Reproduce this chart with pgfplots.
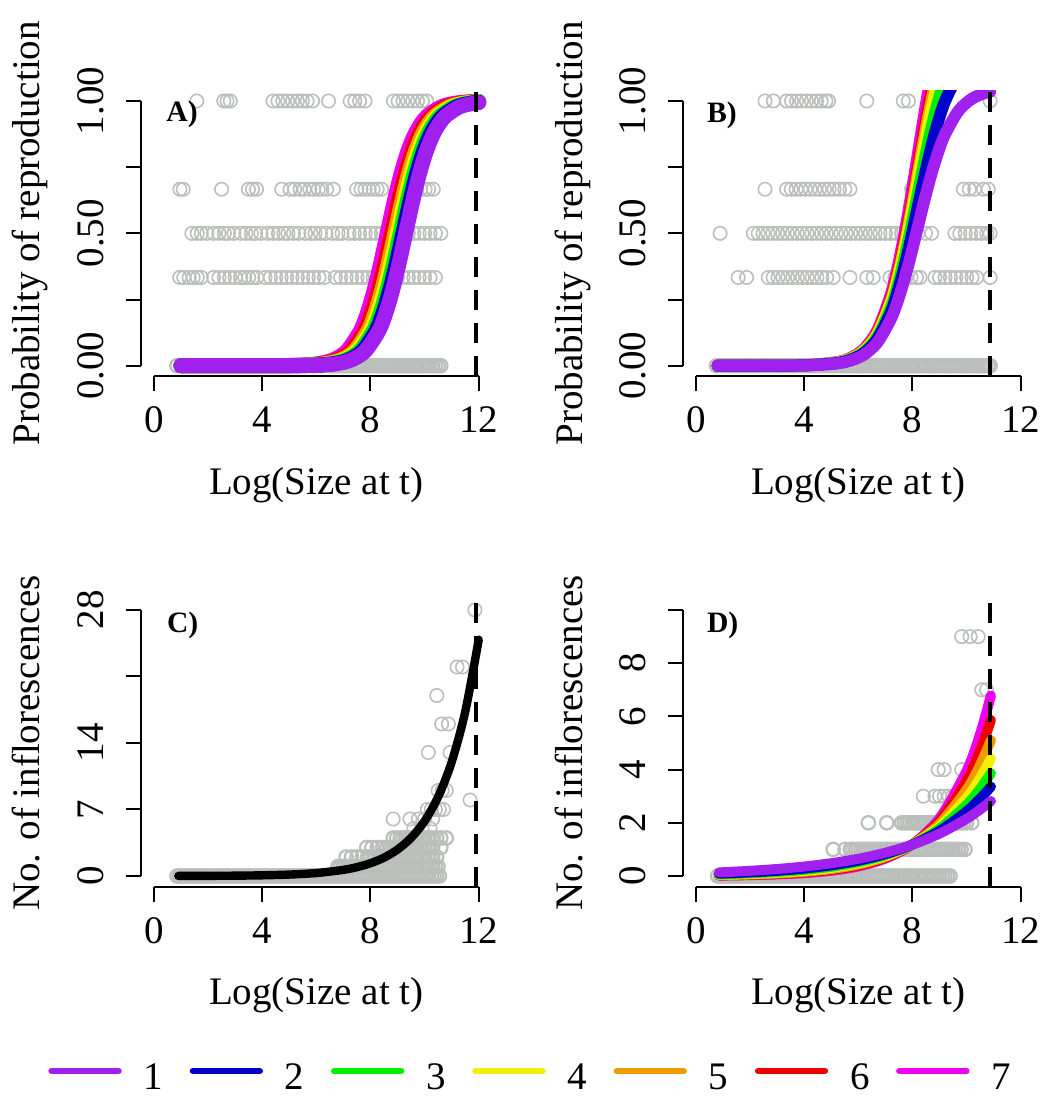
\documentclass[border=0pt]{standalone}
\usepackage{fontspec}
\setmainfont{Liberation Serif}
\usepackage{pgfplots}
\pgfplotsset{compat=1.18}
\newcommand{\bigf}{\fontsize{19.5}{22}\selectfont}
\definecolor{cpurple}{RGB}{160,32,240}
\definecolor{cblue}{RGB}{0,0,205}
\definecolor{cgreen}{RGB}{0,238,0}
\definecolor{cyellow}{RGB}{240,240,0}
\definecolor{corange}{RGB}{238,154,0}
\definecolor{cred}{RGB}{238,0,0}
\definecolor{cmagenta}{RGB}{238,0,238}
\definecolor{cgray}{RGB}{186,191,188}
\pgfplotsset{
 rbase/.style={
  scale only axis, width=175.35pt,
  axis lines=left,
  clip marker paths=true,
  axis line style={-, line width=1pt, black},
  x axis line style={shorten <=6.5pt, shorten >=6.5pt},
  tick style={black, line width=1pt},
  tick align=outside, major tick length=7.5pt,
  xmin=-0.48, xmax=12.48,
  xtick={0,4,8,12}, xticklabels={0,4,8,12},
  tick label style={font=\bigf},
  label style={font=\bigf},
  xticklabel style={anchor=base, yshift=-20.85pt, inner sep=0pt},
  yticklabel style={xshift=-11.25pt, rotate=90, anchor=base, inner sep=0pt},
  xlabel={Log(Size at t)},
  xlabel style={at={(axis description cs:0.5,0)}, anchor=base, yshift=-59.15pt},
  ylabel style={at={(axis description cs:-0.288,0.5)}, anchor=base},
 },
 rprob/.style={rbase, height=142.95pt, ymin=-0.04, ymax=1.04,
  ytick={0,0.25,0.5,0.75,1}, yticklabels={0.00,,0.50,,1.00},
  y axis line style={shorten <=5.3pt, shorten >=5.3pt},
  ylabel={Probability of reproduction}},
 sc/.style={only marks, mark=o, mark size=3.35pt, color=cgray, mark options={line width=0.8pt}},
 scd/.style={only marks, mark=o, mark size=3.35pt, color=cgray, mark options={line width=1.1pt}},
 cv/.style={smooth, no markers, line cap=round, line join=round},
 dsh/.style={black, line width=2pt, dash pattern=on 10pt off 6.5pt},
}
\begin{document}
\begin{tikzpicture}
\useasboundingbox (0,0) rectangle (522pt,549.5pt);
% ---------------- A ----------------
\begin{axis}[rprob, at={(70.5pt,361.35pt)}, anchor=south west]
\addplot[sc] coordinates {(1.58,1)(2.58,1)(2.7,1)(2.82,1)(4.4,1)(4.58,1)(4.76,1)(4.94,1)(5.12,1)(5.3,1)(5.48,1)(5.66,1)(5.86,1)(6.45,1)(7.25,1)(7.42,1)(7.6,1)(7.8,1)(8.85,1)(9.02,1)(9.2,1)(9.38,1)(9.56,1)(9.74,1)(9.92,1)(10.08,1)};
\addplot[sc] coordinates {(0.96,0.6667)(1.08,0.6667)(2.5,0.6667)(3.49,0.6667)(3.64,0.6667)(3.79,0.6667)(4.72,0.6667)(5.03,0.6667)(5.2,0.6667)(5.4,0.6667)(5.55,0.6667)(5.76,0.6667)(5.9,0.6667)(6.07,0.6667)(6.2,0.6667)(6.38,0.6667)(6.63,0.6667)(7.49,0.6667)(7.65,0.6667)(7.8,0.6667)(7.95,0.6667)(8.1,0.6667)(8.25,0.6667)(8.41,0.6667)(9.71,0.6667)(9.85,0.6667)(10.02,0.6667)(10.15,0.6667)(10.32,0.6667)};
\addplot[sc] coordinates {(1.4,0.5)(1.6,0.5)(1.75,0.5)(1.95,0.5)(2.2,0.5)(2.4,0.5)(2.6,0.5)(2.75,0.5)(2.95,0.5)(3.2,0.5)(3.4,0.5)(3.6,0.5)(3.75,0.5)(3.95,0.5)(4.2,0.5)(4.4,0.5)(4.6,0.5)(4.8,0.5)(4.95,0.5)(5.15,0.5)(5.35,0.5)(5.6,0.5)(5.8,0.5)(5.95,0.5)(6.15,0.5)(6.35,0.5)(6.6,0.5)(6.8,0.5)(6.95,0.5)(7.2,0.5)(7.4,0.5)(7.6,0.5)(7.8,0.5)(8.0,0.5)(8.2,0.5)(8.4,0.5)(8.6,0.5)(8.8,0.5)(9.0,0.5)(9.2,0.5)(9.4,0.5)(9.6,0.5)(9.8,0.5)(10.0,0.5)(10.2,0.5)(10.4,0.5)(10.6,0.5)};
\addplot[sc] coordinates {(0.95,0.3333)(1.1,0.3333)(1.3,0.3333)(1.45,0.3333)(1.6,0.3333)(1.75,0.3333)(2.2,0.3333)(2.4,0.3333)(2.6,0.3333)(2.8,0.3333)(3.0,0.3333)(3.2,0.3333)(3.35,0.3333)(3.5,0.3333)(3.65,0.3333)(3.8,0.3333)(4.1,0.3333)(4.3,0.3333)(4.5,0.3333)(4.7,0.3333)(4.9,0.3333)(5.1,0.3333)(5.3,0.3333)(5.5,0.3333)(5.7,0.3333)(5.9,0.3333)(6.1,0.3333)(6.3,0.3333)(6.7,0.3333)(6.9,0.3333)(7.1,0.3333)(7.3,0.3333)(7.5,0.3333)(7.7,0.3333)(7.9,0.3333)(8.1,0.3333)(8.4,0.3333)(8.6,0.3333)(8.8,0.3333)(9.0,0.3333)(9.2,0.3333)(9.4,0.3333)(9.6,0.3333)(9.8,0.3333)(10.0,0.3333)(10.2,0.3333)(10.4,0.3333)};
\addplot[scd] coordinates {(0.85,0)(1.1,0)(1.4,0)(1.7,0)(2.0,0)(2.3,0)(2.6,0)(2.9,0)(3.2,0)(3.5,0)(3.8,0)(4.1,0)(4.4,0)(4.7,0)(5.0,0)(5.3,0)(5.6,0)(5.9,0)(6.2,0)(6.5,0)(6.6,0)(6.7,0)(6.8,0)(6.9,0)(7.0,0)(7.1,0)(7.2,0)(7.3,0)(7.4,0)(7.5,0)(7.6,0)(7.7,0)(7.8,0)(7.9,0)(8.0,0)(8.1,0)(8.2,0)(8.3,0)(8.4,0)(8.5,0)(8.6,0)(8.7,0)(8.8,0)(8.9,0)(9.0,0)(9.1,0)(9.2,0)(9.3,0)(9.4,0)(9.5,0)(9.6,0)(9.7,0)(9.8,0)(9.9,0)(10.0,0)(10.1,0)(10.2,0)(10.3,0)(10.4,0)(10.5,0)(10.6,0)};
\addplot[cv, cmagenta, line width=7.5pt] coordinates {(1.0,0)(4.62,0.0005)(5.62,0.0033)(6.12,0.0086)(6.62,0.0219)(7.12,0.0547)(7.62,0.1301)(7.87,0.1939)(8.12,0.2789)(8.37,0.3834)(8.62,0.5)(8.87,0.6166)(9.12,0.7211)(9.37,0.8061)(9.62,0.8699)(9.87,0.9149)(10.12,0.9453)(10.62,0.9781)(11.12,0.9914)(11.62,0.9967)(12,0.9984)};
\addplot[cv, cred, line width=7.5pt] coordinates {(1.0,0)(4.78,0.0005)(5.78,0.0033)(6.28,0.0086)(6.78,0.0219)(7.28,0.0547)(7.78,0.1301)(8.03,0.1939)(8.28,0.2789)(8.53,0.3834)(8.78,0.5)(9.03,0.6166)(9.28,0.7211)(9.53,0.8061)(9.78,0.8699)(10.03,0.9149)(10.28,0.9453)(10.78,0.9781)(11.28,0.9914)(11.78,0.9967)(12,0.9978)};
\addplot[cv, corange, line width=7.5pt] coordinates {(1.0,0)(4.9,0.0005)(5.9,0.0033)(6.4,0.0086)(6.9,0.0219)(7.4,0.0547)(7.9,0.1301)(8.15,0.1939)(8.4,0.2789)(8.65,0.3834)(8.9,0.5)(9.15,0.6166)(9.4,0.7211)(9.65,0.8061)(9.9,0.8699)(10.15,0.9149)(10.4,0.9453)(10.9,0.9781)(11.4,0.9914)(12,0.9972)};
\addplot[cv, cyellow, line width=7.5pt] coordinates {(1,0)(5,0.0005)(6,0.0033)(6.5,0.0086)(7,0.0219)(7.5,0.0547)(8,0.1301)(8.25,0.1939)(8.5,0.2789)(8.75,0.3834)(9,0.5)(9.25,0.6166)(9.5,0.7211)(9.75,0.8061)(10,0.8699)(10.25,0.9149)(10.5,0.9453)(11,0.9781)(11.5,0.9914)(12,0.9967)};
\addplot[cv, cgreen, line width=7.5pt] coordinates {(1,0)(5.1,0.0005)(6.1,0.0033)(6.6,0.0086)(7.1,0.0219)(7.6,0.0547)(8.1,0.1301)(8.35,0.1939)(8.6,0.2789)(8.85,0.3834)(9.1,0.5)(9.35,0.6166)(9.6,0.7211)(9.85,0.8061)(10.1,0.8699)(10.35,0.9149)(10.6,0.9453)(11.1,0.9781)(11.6,0.9914)(12,0.996)};
\addplot[cv, cblue, line width=7.5pt] coordinates {(1,0)(5.2,0.0005)(6.2,0.0033)(6.7,0.0086)(7.2,0.0219)(7.7,0.0547)(8.2,0.1301)(8.45,0.1939)(8.7,0.2789)(8.95,0.3834)(9.2,0.5)(9.45,0.6166)(9.7,0.7211)(9.95,0.8061)(10.2,0.8699)(10.45,0.9149)(10.7,0.9453)(11.2,0.9781)(11.7,0.9914)(12,0.9951)};
\addplot[cv, cpurple, line width=7.5pt] coordinates {(1,0)(5.3,0.0005)(6.3,0.0033)(6.8,0.0086)(7.3,0.0219)(7.8,0.0547)(8.3,0.1301)(8.55,0.1939)(8.8,0.2789)(9.05,0.3834)(9.3,0.5)(9.55,0.6166)(9.8,0.7211)(10.05,0.8061)(10.3,0.8699)(10.55,0.9149)(10.8,0.9453)(11.3,0.9781)(11.8,0.9914)(12,0.9941)};
\addplot[dsh] coordinates {(11.91,-0.04)(11.91,1.04)};
\end{axis}
% ---------------- B ----------------
\begin{axis}[rprob, at={(341.5pt,361.35pt)}, anchor=south west]
\addplot[sc] coordinates {(2.55,1)(2.86,1)(3.35,1)(3.53,1)(3.72,1)(3.9,1)(4.08,1)(4.27,1)(4.45,1)(4.63,1)(4.8,1)(4.9,1)(6.31,1)(7.66,1)(7.85,1)(10.87,1)};
\addplot[sc] coordinates {(2.55,0.6667)(3.35,0.6667)(3.52,0.6667)(3.7,0.6667)(3.88,0.6667)(4.05,0.6667)(4.22,0.6667)(4.4,0.6667)(4.57,0.6667)(4.75,0.6667)(4.92,0.6667)(5.1,0.6667)(5.3,0.6667)(5.5,0.6667)(5.69,0.6667)(7.97,0.6667)(9.88,0.6667)(10.1,0.6667)(10.3,0.6667)(10.62,0.6667)(10.8,0.6667)};
\addplot[sc] coordinates {(0.89,0.5)(2.12,0.5)(2.3,0.5)(2.48,0.5)(2.66,0.5)(2.84,0.5)(3.02,0.5)(3.2,0.5)(3.38,0.5)(3.56,0.5)(3.74,0.5)(3.92,0.5)(4.1,0.5)(4.28,0.5)(4.46,0.5)(4.64,0.5)(4.82,0.5)(5.0,0.5)(5.18,0.5)(5.36,0.5)(5.54,0.5)(5.72,0.5)(5.9,0.5)(6.08,0.5)(6.26,0.5)(6.44,0.5)(6.62,0.5)(6.8,0.5)(7.0,0.5)(7.2,0.5)(7.4,0.5)(7.6,0.5)(7.8,0.5)(8.0,0.5)(8.2,0.5)(8.48,0.5)(8.71,0.5)(9.57,0.5)(9.75,0.5)(9.95,0.5)(10.15,0.5)(10.35,0.5)(10.55,0.5)(10.75,0.5)(10.87,0.5)};
\addplot[sc] coordinates {(1.56,0.3333)(1.87,0.3333)(2.67,0.3333)(2.85,0.3333)(3.03,0.3333)(3.21,0.3333)(3.39,0.3333)(3.57,0.3333)(3.75,0.3333)(3.93,0.3333)(4.11,0.3333)(4.29,0.3333)(4.47,0.3333)(4.65,0.3333)(4.83,0.3333)(5.07,0.3333)(5.69,0.3333)(6.31,0.3333)(6.55,0.3333)(7.17,0.3333)(7.35,0.3333)(7.55,0.3333)(7.75,0.3333)(7.95,0.3333)(8.15,0.3333)(8.28,0.3333)(8.83,0.3333)(9.0,0.3333)(9.2,0.3333)(9.4,0.3333)(9.6,0.3333)(9.8,0.3333)(10.0,0.3333)(10.2,0.3333)(10.37,0.3333)(10.87,0.3333)};
\addplot[scd] coordinates {(0.76,0)(0.9,0)(1.05,0)(1.2,0)(1.35,0)(1.5,0)(1.65,0)(1.8,0)(1.95,0)(2.1,0)(2.25,0)(2.4,0)(2.55,0)(2.7,0)(2.85,0)(3.0,0)(3.15,0)(3.3,0)(3.45,0)(3.6,0)(3.75,0)(3.9,0)(4.05,0)(4.2,0)(4.35,0)(4.5,0)(4.65,0)(4.8,0)(4.95,0)(5.1,0)(5.25,0)(5.4,0)(5.55,0)(5.7,0)(5.8,0)(5.9,0)(6.0,0)(6.1,0)(6.2,0)(6.3,0)(6.4,0)(6.5,0)(6.6,0)(6.7,0)(6.8,0)(6.9,0)(7.0,0)(7.1,0)(7.2,0)(7.3,0)(7.4,0)(7.5,0)(7.6,0)(7.7,0)(7.8,0)(7.9,0)(8.0,0)(8.1,0)(8.2,0)(8.3,0)(8.4,0)(8.5,0)(8.6,0)(8.7,0)(8.8,0)(8.9,0)(9.0,0)(9.1,0)(9.2,0)(9.3,0)(9.4,0)(9.5,0)(9.6,0)(9.7,0)(9.8,0)(9.9,0)(10.0,0)(10.1,0)(10.2,0)(10.3,0)(10.4,0)(10.5,0)(10.6,0)(10.7,0)(10.8,0)(10.87,0)};
\addplot[cv, cmagenta, line width=6pt] coordinates {(0.8,0)(3.2,0.0005)(4.2,0.0027)(5.2,0.0131)(5.7,0.0288)(6.2,0.0627)(6.7,0.1331)(7.2,0.2688)(7.45,0.3704)(7.7,0.496)(7.95,0.6421)(8.2,0.8)(8.45,0.9579)(8.7,1.104)(8.95,1.2296)(9.2,1.3312)(9.7,1.4669)(10.2,1.5373)(10.7,1.5712)(10.87,1.5776)};
\addplot[cv, cred, line width=6pt] coordinates {(0.8,0)(3.2,0.0005)(4.2,0.0025)(5.2,0.0122)(5.7,0.027)(6.2,0.0588)(6.7,0.1248)(7.2,0.252)(7.45,0.3473)(7.7,0.465)(7.95,0.602)(8.2,0.75)(8.45,0.898)(8.7,1.035)(8.95,1.1528)(9.2,1.248)(9.7,1.3752)(10.2,1.4412)(10.7,1.473)(10.87,1.479)};
\addplot[cv, corange, line width=6pt] coordinates {(0.8,0)(3.2,0.0005)(4.2,0.0024)(5.2,0.0118)(5.7,0.0261)(6.2,0.0568)(6.7,0.1206)(7.2,0.2436)(7.45,0.3357)(7.7,0.4495)(7.95,0.5819)(8.2,0.725)(8.45,0.8681)(8.7,1.0005)(8.95,1.1143)(9.2,1.2064)(9.7,1.3294)(10.2,1.3932)(10.7,1.4239)(10.87,1.4297)};
\addplot[cv, cyellow, line width=6pt] coordinates {(0.8,0)(3.2,0.0005)(4.2,0.0023)(5.2,0.0114)(5.7,0.0252)(6.2,0.0549)(6.7,0.1165)(7.2,0.2352)(7.45,0.3241)(7.7,0.434)(7.95,0.5618)(8.2,0.7)(8.45,0.8382)(8.7,0.966)(8.95,1.0759)(9.2,1.1648)(9.7,1.2835)(10.2,1.3451)(10.7,1.3748)(10.87,1.3804)};
\addplot[cv, cgreen, line width=6pt] coordinates {(0.8,0)(3.2,0.0004)(4.2,0.0022)(5.2,0.0106)(5.7,0.0234)(6.2,0.051)(6.7,0.1082)(7.2,0.2184)(7.45,0.301)(7.7,0.403)(7.95,0.5217)(8.2,0.65)(8.45,0.7783)(8.7,0.897)(8.95,0.9991)(9.2,1.0816)(9.7,1.1918)(10.2,1.249)(10.7,1.2766)(10.87,1.2818)};
\addplot[cv, cblue, line width=6pt] coordinates {(0.8,0)(3.2,0.0004)(4.2,0.002)(5.2,0.0098)(5.7,0.0216)(6.2,0.047)(6.7,0.0998)(7.2,0.2016)(7.45,0.2778)(7.7,0.372)(7.95,0.4816)(8.2,0.6)(8.45,0.7184)(8.7,0.828)(8.95,0.9222)(9.2,0.9984)(9.7,1.1002)(10.2,1.153)(10.7,1.1784)(10.87,1.1832)};
\addplot[cv, cpurple, line width=6pt] coordinates {(0.8,0)(3.2,0.0004)(4.2,0.0017)(5.2,0.0086)(5.7,0.0189)(6.2,0.0412)(6.7,0.0874)(7.2,0.1764)(7.45,0.2431)(7.7,0.3255)(7.95,0.4214)(8.2,0.525)(8.45,0.6286)(8.7,0.7245)(8.95,0.8069)(9.2,0.8736)(9.7,0.9626)(10.2,1.0088)(10.7,1.0311)(10.87,1.0353)};
\addplot[dsh] coordinates {(10.87,-0.04)(10.87,1.04)};
\end{axis}
% ---------------- C ----------------
\begin{axis}[rbase, at={(70.5pt,106.18pt)}, anchor=south west, height=143.64pt,
  ymin=-1.12, ymax=29.12, ytick={0,7,14,21,28}, yticklabels={0,7,14,,28},
  y axis line style={shorten <=5.32pt, shorten >=5.32pt},
  ylabel={No. of inflorescences}]
\addplot[scd] coordinates {(0.85,0)(0.95,0)(1.05,0)(1.15,0)(1.25,0)(1.35,0)(1.45,0)(1.55,0)(1.65,0)(1.75,0)(1.85,0)(1.95,0)(2.05,0)(2.15,0)(2.25,0)(2.35,0)(2.45,0)(2.55,0)(2.65,0)(2.75,0)(2.85,0)(2.95,0)(3.05,0)(3.15,0)(3.25,0)(3.35,0)(3.45,0)(3.55,0)(3.65,0)(3.75,0)(3.85,0)(3.95,0)(4.05,0)(4.15,0)(4.25,0)(4.35,0)(4.45,0)(4.55,0)(4.65,0)(4.75,0)(4.85,0)(4.95,0)(5.05,0)(5.15,0)(5.25,0)(5.35,0)(5.45,0)(5.55,0)(5.65,0)(5.75,0)(5.85,0)(5.95,0)(6.05,0)(6.15,0)(6.25,0)(6.35,0)(6.45,0)(6.55,0)(6.65,0)(6.75,0)(6.85,0)(6.95,0)(7.05,0)(7.15,0)(7.25,0)(7.35,0)(7.45,0)(7.55,0)(7.65,0)(7.75,0)(7.85,0)(7.95,0)(8.05,0)(8.15,0)(8.25,0)(8.35,0)(8.45,0)(8.55,0)(8.65,0)(8.75,0)(8.85,0)(8.95,0)(9.05,0)(9.15,0)(9.25,0)(9.35,0)(9.45,0)(9.55,0)(9.65,0)(9.75,0)(9.85,0)(9.95,0)(10.05,0)(10.15,0)(10.25,0)(10.35,0)(10.45,0)(10.55,0)};
\addplot[scd] coordinates {(6.8,1)(6.9,1)(7.0,1)(7.1,1)(7.2,1)(7.3,1)(7.4,1)(7.5,1)(7.6,1)(7.7,1)(7.8,1)(7.9,1)(8.0,1)(8.1,1)(8.2,1)(8.3,1)(8.4,1)(8.5,1)(8.6,1)(8.7,1)(8.8,1)(8.9,1)(9.0,1)(9.1,1)(9.2,1)(9.3,1)(9.4,1)(9.5,1)(9.6,1)(9.7,1)(9.8,1)(9.9,1)(10.0,1)(10.1,1)(10.2,1)(10.3,1)(10.4,1)(10.5,1)};
\addplot[scd] coordinates {(7.1,2)(7.3,2)(7.5,2)(7.7,2)(7.9,2)(8.0,2)(8.1,2)(8.2,2)(8.3,2)(8.4,2)(8.5,2)(8.6,2)(8.7,2)(8.8,2)(8.9,2)(9.0,2)(9.1,2)(9.2,2)(9.3,2)(9.4,2)(9.5,2)(9.6,2)(9.7,2)(9.8,2)(9.9,2)(10.0,2)(10.1,2)(10.2,2)(10.3,2)(10.45,2)};
\addplot[scd] coordinates {(7.86,3)(8.05,3)(8.25,3)(8.45,3)(8.6,3)(8.7,3)(8.8,3)(8.9,3)(9.0,3)(9.1,3)(9.2,3)(9.3,3)(9.4,3)(9.5,3)(9.6,3)(9.7,3)(9.8,3)(9.9,3)(10.0,3)(10.1,3)(10.2,3)(10.3,3)(10.6,3)};
\addplot[scd] coordinates {(8.84,4)(8.97,4)(9.1,4)(9.2,4)(9.3,4)(9.4,4)(9.5,4)(9.6,4)(9.7,4)(9.8,4)(9.9,4)(10.0,4)(10.1,4)(10.2,4)(10.3,4)(10.45,4)(10.6,4)(10.8,4)};
\addplot[sc] coordinates {(9.6,5)(9.9,5)(10.2,5)(8.84,6)(9.46,6)(9.77,6)(10.0,6)(10.3,6)(10.1,7)(10.25,7)(10.4,7)(10.55,7)(10.7,7)(11.68,8)(10.5,9)(10.65,9)(10.8,9)(10.14,13)(10.94,13)(10.63,16)(10.88,16)(10.45,19)(11.2,22)(11.4,22)(11.86,28)};
\addplot[cv, black, line width=4.2pt] coordinates {(0.9,0.0075)(2,0.0168)(3,0.0349)(4,0.0724)(5,0.1502)(6,0.3116)(7,0.6466)(7.5,0.9315)(8,1.3418)(8.5,1.9329)(9,2.7843)(9.5,4.0109)(10,5.7776)(10.5,8.3225)(11,11.989)(11.5,17.27)(12,24.878)};
\addplot[dsh] coordinates {(11.91,-1.12)(11.91,29.12)};
\end{axis}
% ---------------- D ----------------
\begin{axis}[rbase, at={(341.5pt,106.18pt)}, anchor=south west, height=143.64pt,
  ymin=-0.4, ymax=10.4, ytick={0,2,4,6,8,10}, yticklabels={0,2,4,6,8,},
  y axis line style={shorten <=5.32pt, shorten >=5.32pt},
  ylabel={No. of inflorescences}]
\addplot[scd] coordinates {(0.8,0)(0.9,0)(1.0,0)(1.1,0)(1.2,0)(1.3,0)(1.4,0)(1.5,0)(1.6,0)(1.7,0)(1.8,0)(1.9,0)(2.0,0)(2.1,0)(2.2,0)(2.3,0)(2.4,0)(2.5,0)(2.6,0)(2.7,0)(2.8,0)(2.9,0)(3.0,0)(3.1,0)(3.2,0)(3.3,0)(3.4,0)(3.5,0)(3.6,0)(3.7,0)(3.8,0)(3.9,0)(4.0,0)(4.1,0)(4.2,0)(4.3,0)(4.4,0)(4.5,0)(4.6,0)(4.7,0)(4.8,0)(4.9,0)(5.0,0)(5.1,0)(5.2,0)(5.3,0)(5.4,0)(5.5,0)(5.6,0)(5.7,0)(5.8,0)(5.9,0)(6.0,0)(6.1,0)(6.2,0)(6.3,0)(6.4,0)(6.5,0)(6.6,0)(6.7,0)(6.8,0)(6.9,0)(7.0,0)(7.1,0)(7.2,0)(7.3,0)(7.4,0)(7.5,0)(7.6,0)(7.7,0)(7.8,0)(7.9,0)(8.0,0)(8.1,0)(8.2,0)(8.3,0)(8.4,0)(8.5,0)(8.6,0)(8.7,0)(8.8,0)(8.9,0)(9.0,0)(9.1,0)(9.2,0)(9.3,0)(9.39,0)};
\addplot[scd] coordinates {(5.07,1)(5.51,1)(5.7,1)(5.8,1)(5.9,1)(6.0,1)(6.1,1)(6.2,1)(6.3,1)(6.4,1)(6.5,1)(6.6,1)(6.7,1)(6.8,1)(6.9,1)(7.0,1)(7.1,1)(7.2,1)(7.3,1)(7.4,1)(7.5,1)(7.6,1)(7.7,1)(7.8,1)(7.9,1)(8.0,1)(8.1,1)(8.2,1)(8.3,1)(8.4,1)(8.5,1)(8.6,1)(8.7,1)(8.8,1)(8.9,1)(9.0,1)(9.1,1)(9.2,1)(9.3,1)(9.4,1)(9.5,1)(9.6,1)(9.7,1)(9.8,1)(9.94,1)};
\addplot[scd] coordinates {(6.37,2)(7.05,2)(7.6,2)(7.7,2)(7.8,2)(7.9,2)(8.0,2)(8.1,2)(8.2,2)(8.3,2)(8.4,2)(8.5,2)(8.6,2)(8.7,2)(8.8,2)(8.9,2)(9.0,2)(9.1,2)(9.2,2)(9.3,2)(9.4,2)(9.5,2)(9.6,2)(9.7,2)(9.8,2)(9.9,2)(10.0,2)(10.19,2)};
\addplot[sc] coordinates {(8.4,3)(8.83,3)(9.0,3)(9.17,3)(9.35,3)(9.5,3)(8.95,4)(9.17,4)(9.82,4)(10.56,7)(10.74,7)(9.82,9)(10.13,9)(10.43,9)};
\addplot[cv, cmagenta, line width=5pt] coordinates {(0.85,0.0155)(2,0.0325)(3,0.0593)(4,0.1081)(5,0.1969)(6,0.3588)(7,0.6538)(7.97,1.17)(9,2.1706)(10,3.9551)(10.5,5.3387)(10.9,6.7866)};
\addplot[cv, cred, line width=5pt] coordinates {(0.85,0.0222)(2,0.0439)(3,0.076)(4,0.1318)(5,0.2284)(6,0.3959)(7,0.6862)(7.97,1.17)(9,2.0617)(10,3.5734)(10.5,4.7042)(10.9,5.8617)};
\addplot[cv, corange, line width=5pt] coordinates {(0.85,0.0311)(2,0.0581)(3,0.096)(4,0.1588)(5,0.2627)(6,0.4344)(7,0.7183)(7.97,1.17)(9,1.9643)(10,3.2482)(10.5,4.177)(10.9,5.1083)};
\addplot[cv, cyellow, line width=5pt] coordinates {(0.85,0.0445)(2,0.078)(3,0.1228)(4,0.1933)(5,0.3042)(6,0.4787)(7,0.7535)(7.97,1.17)(9,1.8669)(10,2.9383)(10.5,3.6861)(10.9,4.4194)};
\addplot[cv, cgreen, line width=5pt] coordinates {(0.85,0.062)(2,0.1027)(3,0.1544)(4,0.2321)(5,0.3488)(6,0.5242)(7,0.788)(7.97,1.17)(9,1.7803)(10,2.6757)(10.5,3.2806)(10.9,3.8615)};
\addplot[cv, cblue, line width=5pt] coordinates {(0.85,0.0873)(2,0.1364)(3,0.1955)(4,0.2802)(5,0.4016)(6,0.5757)(7,0.8251)(7.97,1.17)(9,1.6953)(10,2.4298)(10.5,2.909)(10.9,3.3594)};
\addplot[cv, cpurple, line width=5pt] coordinates {(0.85,0.1345)(2,0.1952)(3,0.2634)(4,0.3556)(5,0.48)(6,0.648)(7,0.8746)(7.97,1.17)(9,1.5936)(10,2.151)(10.5,2.4993)(10.9,2.818)};
\addplot[dsh] coordinates {(10.87,-0.4)(10.87,10.4)};
\end{axis}
% panel labels
\node[anchor=base west, inner sep=0pt, font=\fontsize{14.8}{17}\selectfont\bfseries] at (83pt,488.5pt) {A)};
\node[anchor=base west, inner sep=0pt, font=\fontsize{14.8}{17}\selectfont\bfseries] at (353.35pt,488pt) {B)};
\node[anchor=base west, inner sep=0pt, font=\fontsize{14.8}{17}\selectfont\bfseries] at (83.3pt,233pt) {C)};
\node[anchor=base west, inner sep=0pt, font=\fontsize{14.8}{17}\selectfont\bfseries] at (353.35pt,233pt) {D)};
% legend
\foreach \c/\t [count=\i from 0] in {cpurple/1,cblue/2,cgreen/3,cyellow/4,corange/5,cred/6,cmagenta/7}{
  \draw[\c, line width=3.35pt, line cap=round] ({25.85pt+70.65pt*\i},14pt) -- ({59.2pt+70.65pt*\i},14pt);
  \node[anchor=base west, inner sep=0pt, font=\bigf] at ({71.6pt+70.65pt*\i},5pt) {\t};
}
\end{tikzpicture}
\end{document}
